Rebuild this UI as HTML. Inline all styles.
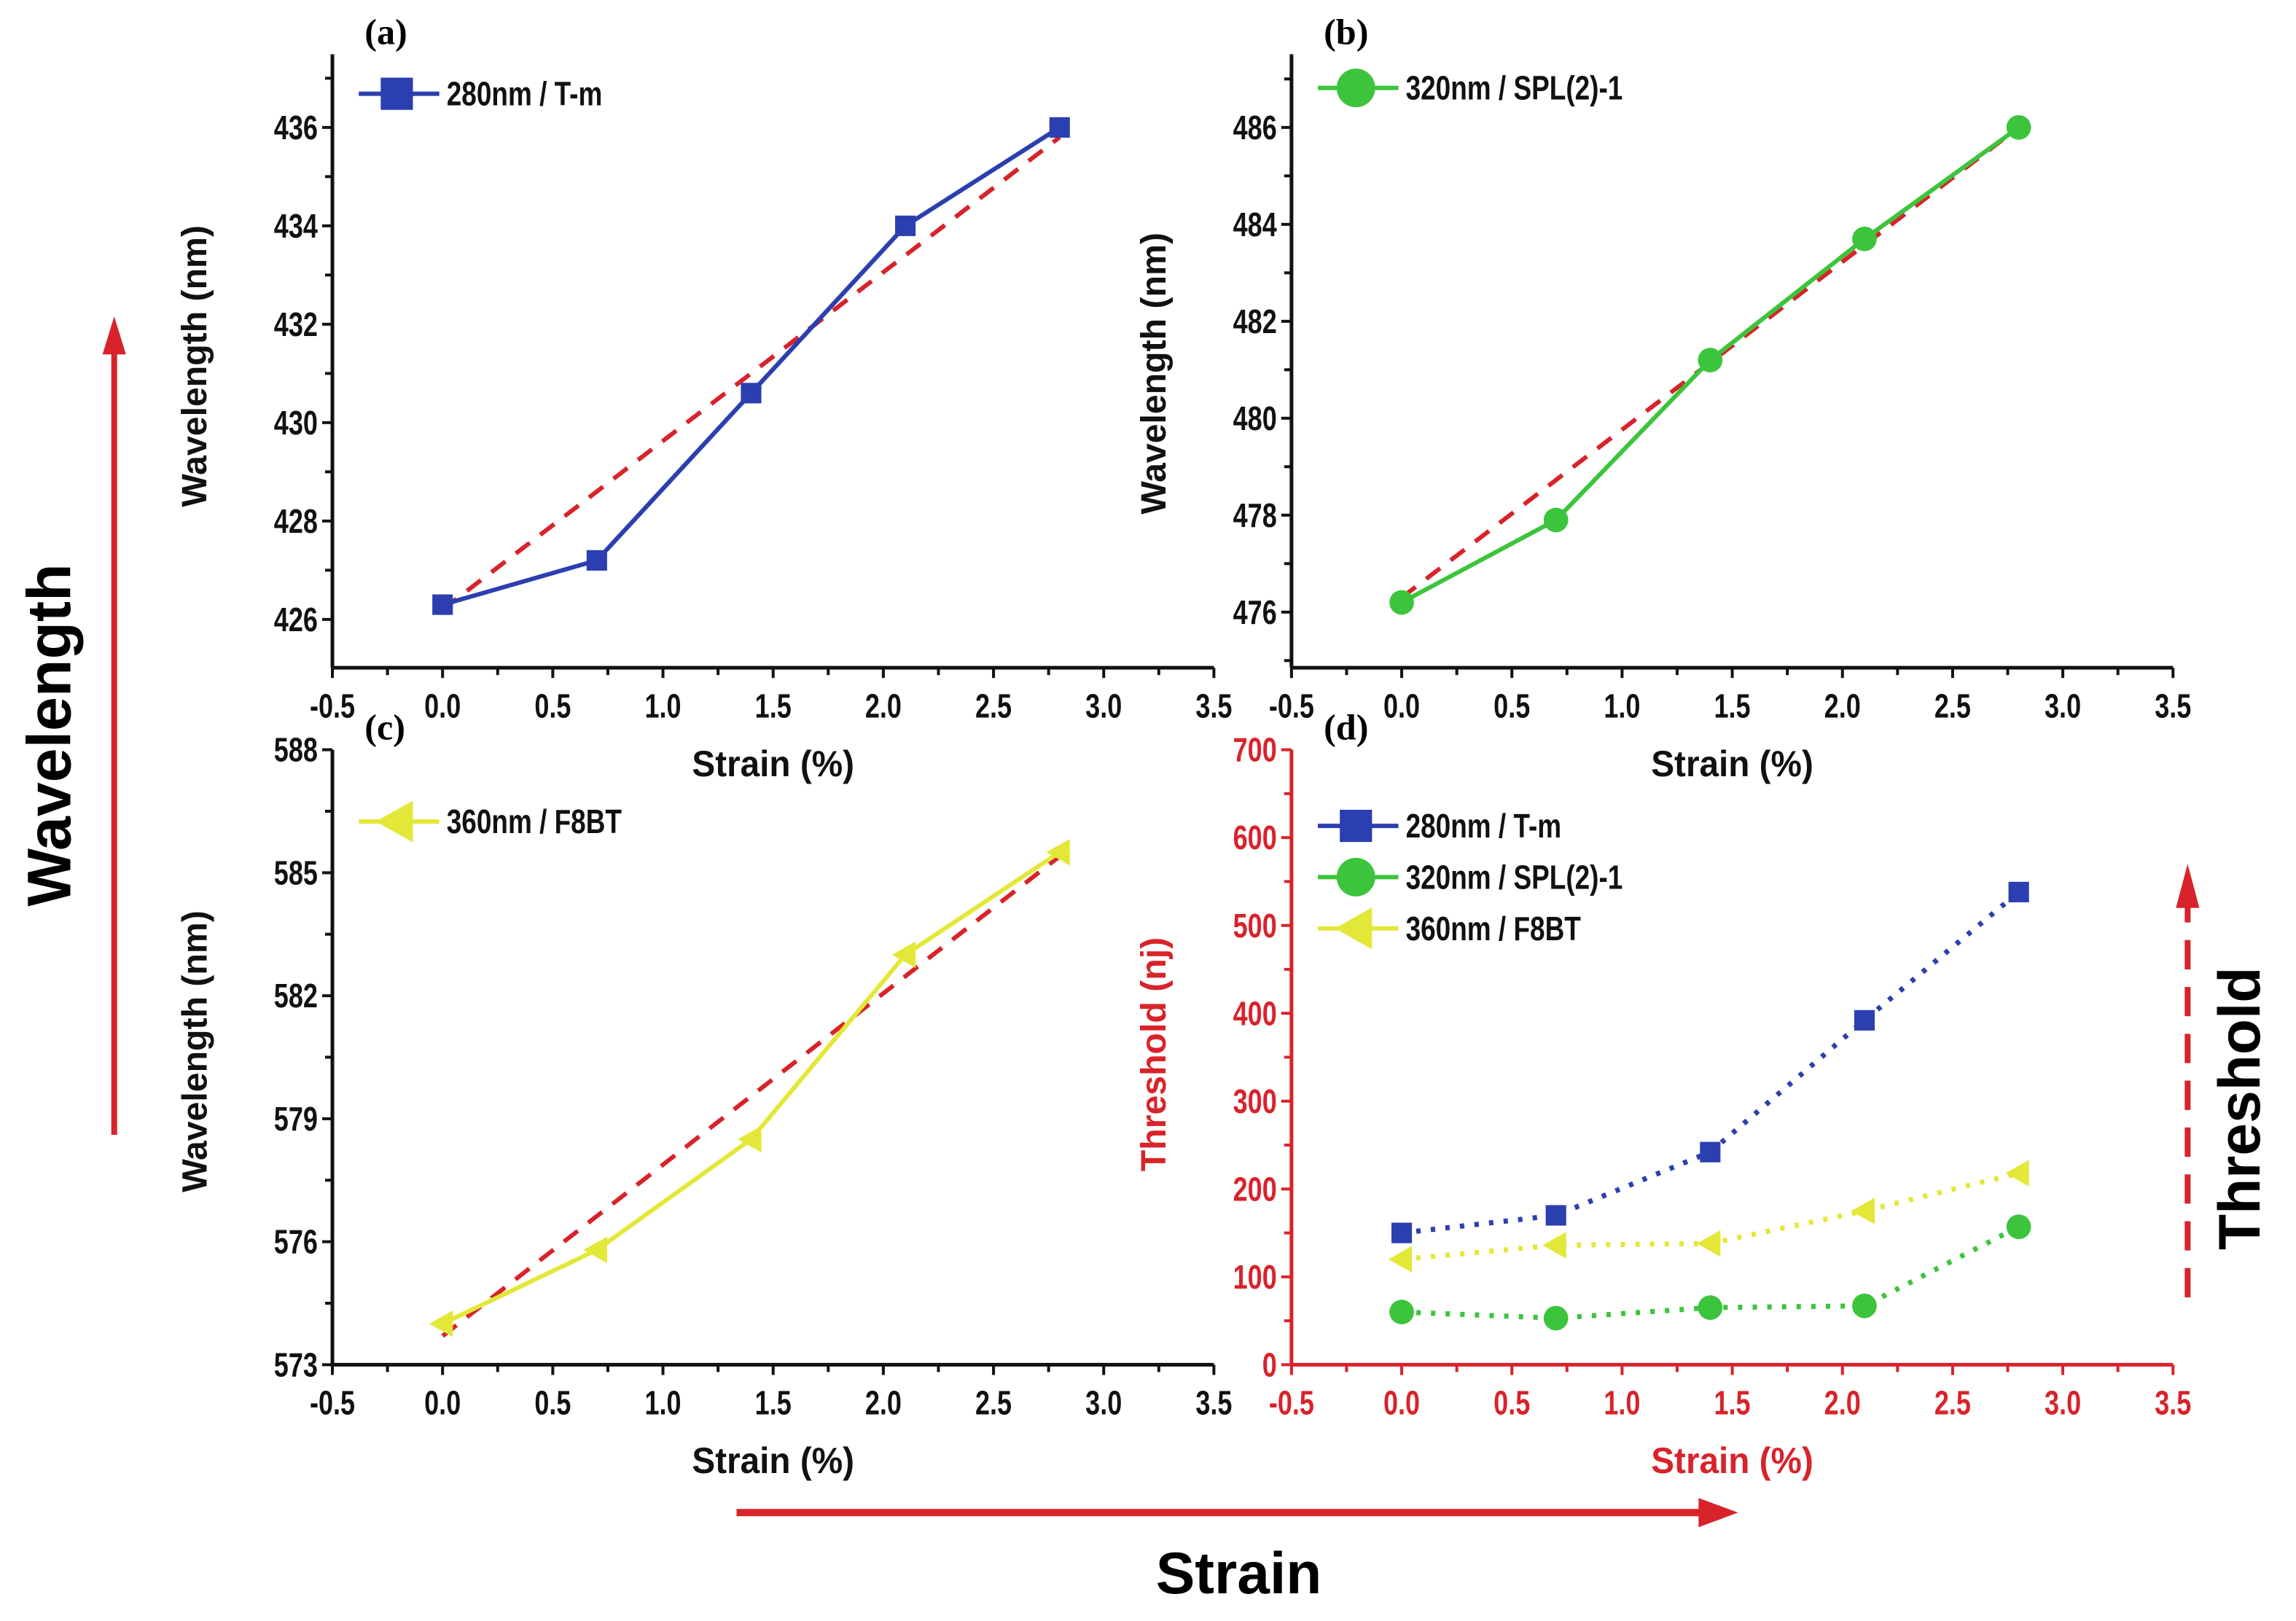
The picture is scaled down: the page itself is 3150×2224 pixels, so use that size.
<!DOCTYPE html>
<html><head><meta charset="utf-8"><style>
html,body{margin:0;padding:0;background:#fff}
svg{display:block}
text{font-family:"Liberation Sans Narrow","Liberation Sans",sans-serif}
</style></head><body>
<svg id="fig" width="3150" height="2224" viewBox="0 0 1568 1107" xmlns="http://www.w3.org/2000/svg">
<rect width="1568" height="1107" fill="#fff"/>
<g id="root"></g>
</svg>
<script>
const strain = [0, 0.7, 1.4, 2.1, 2.8];
const waveA = [426.3, 427.2, 430.6, 434.0, 436.0];
const fitA = [426.2, 435.8];
const waveB = [476.2, 477.9, 481.2, 483.7, 486.0];
const fitB = [476.3, 486.0];
const waveC = [574.0, 575.8, 578.5, 583.0, 585.5];
const fitC = [573.7, 585.4];
const thrT = [150, 170, 242, 392, 538];
const thrS = [60, 53, 65, 67, 157];
const thrF = [120, 136, 138, 175, 218];
const xTicks = [-0.5, 0, 0.5, 1.0, 1.5, 2.0, 2.5, 3.0, 3.5];
const yTicksA = [426, 428, 430, 432, 434, 436];
const yTicksB = [476, 478, 480, 482, 484, 486];
const yTicksC = [573, 576, 579, 582, 585, 588];
const yTicksD = [0, 100, 200, 300, 400, 500, 600, 700];

const NS = "http://www.w3.org/2000/svg";
const root = document.getElementById('root');
function el(tag, attrs, parent, txt) {
  const e = document.createElementNS(NS, tag);
  for (const k in attrs) e.setAttribute(k, attrs[k]);
  if (txt !== undefined) e.textContent = txt;
  (parent || root).appendChild(e);
  return e;
}
const BLUE = '#2b3fb0', GREEN = '#3cc43c', YEL = '#e3e838', RED = '#d8232a';
function sx(x, f) { return `translate(${x},0) scale(${f},1) translate(${-x},0)`; }

function marker(g, type, x, y, color, s) {
  let m;
  if (type === 'sq') m = el('rect', {x: x - s, y: y - s, width: 2 * s, height: 2 * s, fill: color}, g);
  else if (type === 'ci') m = el('circle', {cx: x, cy: y, r: s * 1.2, fill: color}, g);
  else m = el('polygon', {points: `${x - s * 1.3},${y} ${x + s},${y - s * 1.3} ${x + s},${y + s * 1.3}`, fill: color}, g);
  
  
  return m;
}

function panel(o) {
  const g = el('g', {});
  
  
  const xs = v => o.x0 + (v - (-0.5)) / 4 * (o.x1 - o.x0);
  const ys = v => o.pMin - (v - o.ymin) / (o.ymax - o.ymin) * (o.pMin - o.pMax);
  const ac = o.axisColor;
  const xa = el('line', {x1: o.x0, y1: o.yb, x2: o.x1, y2: o.yb, stroke: ac, 'stroke-width': 2.5}, g);
   
  const ya = el('line', {x1: o.x0, y1: o.yb, x2: o.x0, y2: o.ytop, stroke: ac, 'stroke-width': 2.5}, g);
   
  for (let i = 0; i < xTicks.length; i++) {
    const v = xTicks[i], x = xs(v);
    el('line', {x1: x, y1: o.yb, x2: x, y2: o.yb + 7, stroke: ac, 'stroke-width': 2}, g);
    if (i < xTicks.length - 1) { const xm = xs(v + 0.25); el('line', {x1: xm, y1: o.yb, x2: xm, y2: o.yb + 5, stroke: ac, 'stroke-width': 2}, g); }
    const t = el('text', {x: x, y: o.yb + 34, 'font-size': 23, 'font-weight': 'bold', 'text-anchor': 'middle', fill: ac, transform: sx(x, 0.78)}, g, v.toFixed(1));
     
  }
  const yt = o.yTicks, step = yt[1] - yt[0];
  for (let i = 0; i < yt.length; i++) {
    const y = ys(yt[i]);
    el('line', {x1: o.x0, y1: y, x2: o.x0 - 7, y2: y, stroke: ac, 'stroke-width': 2}, g);
    const ym = ys(yt[i] + step / 2);
    if (ym >= o.ytop) el('line', {x1: o.x0, y1: ym, x2: o.x0 - 5, y2: ym, stroke: ac, 'stroke-width': 2}, g);
    const tx = o.x0 - 10;
    const t = el('text', {x: tx, y: y + 8, 'font-size': 23, 'font-weight': 'bold', 'text-anchor': 'end', fill: ac, transform: sx(tx, 0.78)}, g, String(yt[i]));
     
  }
  const ym0 = ys(yt[0] - step / 2);
  if (ym0 <= o.yb - 2) el('line', {x1: o.x0, y1: ym0, x2: o.x0 - 5, y2: ym0, stroke: ac, 'stroke-width': 2}, g);
  const cx = (o.x0 + o.x1) / 2 + 0;
  const xl = el('text', {x: cx, y: o.yb + 74, 'font-size': 25, 'font-weight': 'bold', 'text-anchor': 'middle', fill: ac, style: 'font-family:"Liberation Sans",sans-serif', transform: sx(cx, 0.95)}, g, 'Strain (%)');
   
  const lx = o.x0 - 86, lyc = o.labelY;
  const yl = el('text', {x: lx, y: lyc, 'font-size': 24, 'font-weight': 'bold', 'text-anchor': 'middle', fill: ac, transform: `rotate(-90 ${lx} ${lyc})`, style: 'font-family:"Liberation Sans",sans-serif'}, g, o.ylabel);
   
  const pl = el('text', {x: o.x0 + 22, y: o.ytop - 7, 'font-size': 25, 'font-weight': 'bold', style: 'font-family:"Liberation Serif",serif'}, g, o.tag);
   
  o.series.forEach((s, si) => {
    if (s.fit) {
      const f = el('line', {x1: xs(strain[0]), y1: ys(s.fit[0]), x2: xs(strain[4]), y2: ys(s.fit[1]), stroke: RED, 'stroke-width': 3, 'stroke-dasharray': '12,9'}, g);
       
    }
    const pts = strain.map((v, i) => xs(v) + ',' + ys(s.vals[i])).join(' ');
    const pl2 = el('polyline', {points: pts, fill: 'none', stroke: s.color, 'stroke-width': s.dotted ? 3.5 : 3, 'stroke-dasharray': s.dotted ? '3,7' : 'none'}, g);
     
    strain.forEach((v, i) => marker(g, s.m, xs(v), ys(s.vals[i]), s.color, 7));
    const ly = o.legY + si * 35, lx0 = o.x0 + 18;
    const lg = el('g', {}, g);
     
    el('line', {x1: lx0, y1: ly, x2: lx0 + 55, y2: ly, stroke: s.color, 'stroke-width': 3}, lg);
    marker(lg, s.m, lx0 + 26, ly, s.color, 11);
    el('text', {x: lx0 + 60, y: ly + 8, 'font-size': 23, 'font-weight': 'bold', fill: '#111', transform: sx(lx0 + 60, 0.8)}, lg, s.label);
  });
}

panel({name: 'panel-a', tag: '(a)', x0: 227, x1: 829, yb: 456, ytop: 37, pMax: 87, pMin: 423, ymin: 426, ymax: 436, yTicks: yTicksA, axisColor: '#111', ylabel: 'Wavelength (nm)', labelY: 250, legY: 64,
  series: [{name: 'tm', vals: waveA, fit: fitA, color: BLUE, m: 'sq', label: '280nm / T-m'}]});
panel({name: 'panel-b', tag: '(b)', x0: 882, x1: 1484, yb: 456, ytop: 37, pMax: 87, pMin: 418, ymin: 476, ymax: 486, yTicks: yTicksB, axisColor: '#111', ylabel: 'Wavelength (nm)', labelY: 255, legY: 60,
  series: [{name: 'spl', vals: waveB, fit: fitB, color: GREEN, m: 'ci', label: '320nm / SPL(2)-1'}]});
panel({name: 'panel-c', tag: '(c)', x0: 227, x1: 829, yb: 932, ytop: 512, pMax: 512, pMin: 932, ymin: 573, ymax: 588, yTicks: yTicksC, axisColor: '#111', ylabel: 'Wavelength (nm)', labelY: 718, legY: 561,
  series: [{name: 'f8bt', vals: waveC, fit: fitC, color: YEL, m: 'tri', label: '360nm / F8BT'}]});
panel({name: 'panel-d', tag: '(d)', x0: 882, x1: 1484, yb: 932, ytop: 512, pMax: 512, pMin: 932, ymin: 0, ymax: 700, yTicks: yTicksD, axisColor: RED, ylabel: 'Threshold (nj)', labelY: 720, legY: 564,
  series: [
    {name: 'tm-threshold', vals: thrT, color: BLUE, m: 'sq', label: '280nm / T-m', dotted: true},
    {name: 'spl-threshold', vals: thrS, color: GREEN, m: 'ci', label: '320nm / SPL(2)-1', dotted: true},
    {name: 'f8bt-threshold', vals: thrF, color: YEL, m: 'tri', label: '360nm / F8BT', dotted: true}]});

const w = el('text', {x: 48, y: 502, 'font-size': 42, 'font-weight': 'bold', 'text-anchor': 'middle', transform: 'rotate(-90 48 502)', style: 'font-family:"Liberation Sans",sans-serif'}, root, 'Wavelength');
 
const wa = el('g', {});  
el('line', {x1: 78, y1: 775, x2: 78, y2: 240, stroke: RED, 'stroke-width': 4}, wa);
el('polygon', {points: '70,242 86,242 78,216', fill: RED}, wa);
const s = el('text', {x: 846, y: 1088, 'font-size': 40, 'font-weight': 'bold', 'text-anchor': 'middle', style: 'font-family:"Liberation Sans",sans-serif'}, root, 'Strain');
 
const sa = el('g', {});  
el('line', {x1: 503, y1: 1033, x2: 1162, y2: 1033, stroke: RED, 'stroke-width': 5}, sa);
el('polygon', {points: '1160,1023 1160,1043 1187,1033', fill: RED}, sa);
const t = el('text', {x: 1543, y: 757, 'font-size': 40, 'font-weight': 'bold', 'text-anchor': 'middle', transform: 'rotate(-90 1543 757)', style: 'font-family:"Liberation Sans",sans-serif'}, root, 'Threshold');
 
const ta = el('g', {});  
el('line', {x1: 1494, y1: 886, x2: 1494, y2: 618, stroke: RED, 'stroke-width': 4, 'stroke-dasharray': '20,12'}, ta);
el('polygon', {points: '1486,620 1502,620 1494,590', fill: RED}, ta);
</script>
</body></html>
